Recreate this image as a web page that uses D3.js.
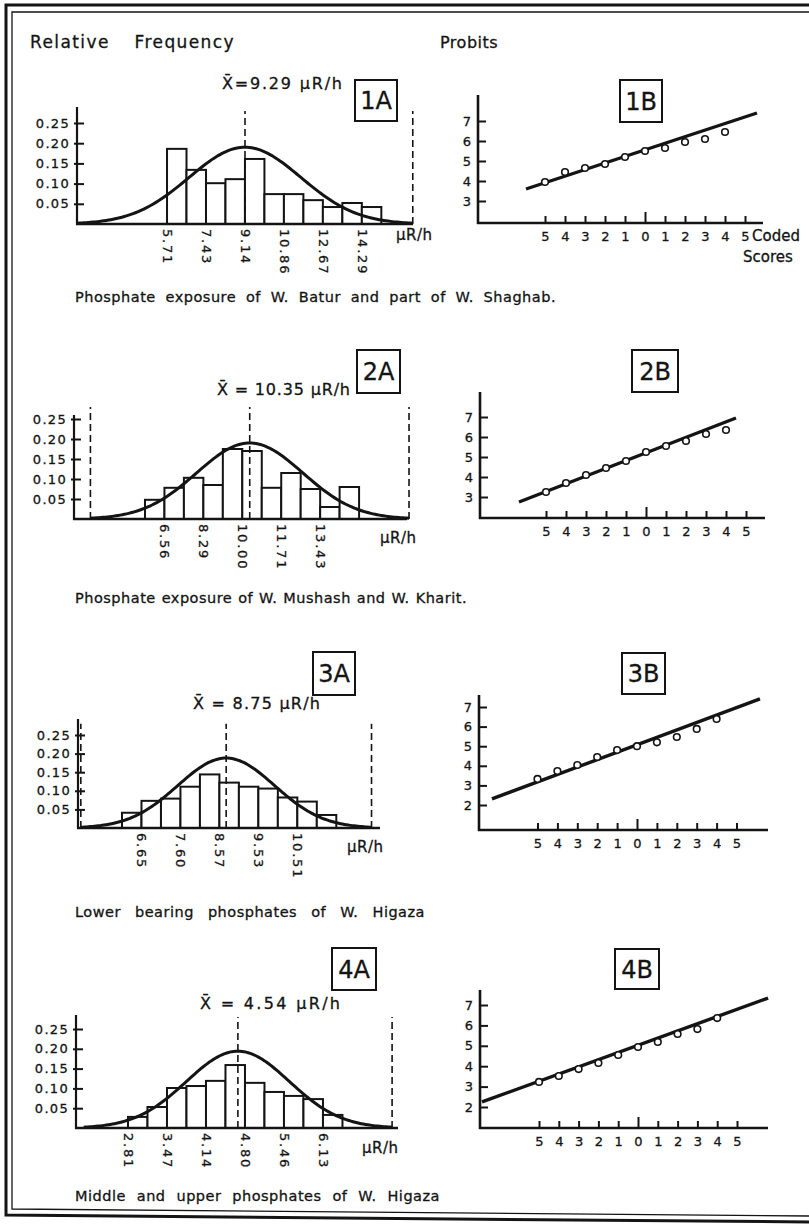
<!DOCTYPE html>
<html>
<head>
<meta charset="utf-8">
<script src="https://cdn.jsdelivr.net/npm/d3@7"></script>
<style>
  body { margin: 0; background: #fff; }
  svg { display: block; }
  text { stroke: #141414; stroke-width: 0.3px; }
</style>
</head>
<body>
<div id="chart"></div>
<script>
const W = 809, H = 1229;
const FONT = "'DejaVu Sans', sans-serif";
const INK = "#141414";

// relative frequency of each class (histograms 1A..4A)
const freq1A = [0.186, 0.134, 0.101, 0.111, 0.161, 0.074, 0.074, 0.059, 0.042, 0.052, 0.042];
const freq2A = [0.048, 0.078, 0.103, 0.085, 0.175, 0.170, 0.078, 0.115, 0.075, 0.030, 0.080];
const freq3A = [0.041, 0.073, 0.079, 0.111, 0.144, 0.122, 0.111, 0.106, 0.082, 0.071, 0.035];
const freq4A = [0.028, 0.053, 0.101, 0.106, 0.119, 0.159, 0.114, 0.091, 0.081, 0.073, 0.033];

// class limits, µR/h
const classStart = [5.71, 5.695, 6.17, 2.81];
const classWidth = [0.857, 0.865, 0.4825, 0.33];
const axisStart = [1.75, 2.54, 5.08, 1.93];
const axisEnd = [16.53, 17.34, 12.56, 7.38];

// labels under every second class limit
const ticks1A = ["5.71", "7.43", "9.14", "10.86", "12.67", "14.29"];
const ticks2A = ["6.56", "8.29", "10.00", "11.71", "13.43"];
const ticks3A = ["6.65", "7.60", "8.57", "9.53", "10.51"];
const ticks4A = ["2.81", "3.47", "4.14", "4.80", "5.46", "6.13"];
const firstTickEdge = [0, 1, 1, 0];
const freqTicks = [0.05, 0.10, 0.15, 0.20, 0.25];

// fitted normal curves
const meanLabels = ["X\u0304=9.29 \u03bcR/h", "X\u0304 = 10.35 \u03bcR/h", "X\u0304 = 8.75 \u03bcR/h", "X\u0304 = 4.54 \u03bcR/h"];
const curveCentre = [9.14, 10.35, 8.75, 4.67];
const curveSd = [2.46, 2.36, 1.20, 0.87];
const curvePeak = [0.190, 0.190, 0.188, 0.194];
const leftDash = [true, true, true, false];

// probit plots 1B..4B
const codedScores = [-5, -4, -3, -2, -1, 0, 1, 2, 3, 4, 5];
const codedLabels = ["5", "4", "3", "2", "1", "0", "1", "2", "3", "4", "5"];
const pointScores = [-5, -4, -3, -2, -1, 0, 1, 2, 3, 4];
const probit1B = [3.95, 4.45, 4.65, 4.85, 5.20, 5.50, 5.65, 5.95, 6.10, 6.45];
const probit2B = [3.25, 3.70, 4.10, 4.45, 4.80, 5.25, 5.55, 5.80, 6.15, 6.35];
const probit3B = [3.33, 3.73, 4.04, 4.45, 4.80, 5.00, 5.20, 5.47, 5.88, 6.39];
const probit4B = [3.23, 3.52, 3.86, 4.16, 4.55, 4.94, 5.19, 5.58, 5.82, 6.36];
const fit1B = [[-5.95, 3.60], [5.60, 7.40]];
const fit2B = [[-6.35, 2.75], [4.50, 6.95]];
const fit3B = [[-7.29, 2.31], [6.18, 7.41]];
const fit4B = [[-7.88, 2.25], [6.57, 7.34]];
const probitTicksA = [3, 4, 5, 6, 7];
const probitTicksB = [2, 3, 4, 5, 6, 7];

const panelA = ["1A", "2A", "3A", "4A"];
const panelB = ["1B", "2B", "3B", "4B"];
const captions = [
    "Phosphate exposure of W. Batur and part of W. Shaghab.",
    "Phosphate exposure of W. Mushash and W. Kharit.",
    "Lower bearing phosphates of W. Higaza",
    "Middle and upper phosphates of W. Higaza"
];

// page layout (pixels)
const layoutA = [
    { x0: 77, x1: 413, base: 224, top25: 123, yTop: 107, label: [222, 89, 120], box: [355, 80, 42, 41], unit: [396, 240] },
    { x0: 74, x1: 407, base: 519, top25: 419, yTop: 415, label: [217, 395, 133], box: [357, 350, 43, 43], unit: [380, 543] },
    { x0: 78, x1: 380, base: 828, top25: 735, yTop: 719, label: [193, 709, 127], box: [313, 652, 42, 43], unit: [347, 852] },
    { x0: 76, x1: 398, base: 1128, top25: 1029, yTop: 1015, label: [200, 1009, 140], box: [332, 948, 44, 42], unit: [362, 1153] }
];
const layoutB = [
    { x0: 478, x1: 763, base: 223, top: 95, c0: 645, dx: 20, y7: 121, dy: 20, box: [620, 80, 42, 42] },
    { x0: 480, x1: 765, base: 518, top: 392, c0: 646, dx: 20, y7: 417, dy: 20, box: [632, 350, 46, 42] },
    { x0: 479, x1: 768, base: 830, top: 695, c0: 637, dx: 19.9, y7: 707, dy: 19.6, box: [622, 653, 43, 41] },
    { x0: 480, x1: 768, base: 1128, top: 990, c0: 638, dx: 19.8, y7: 1005, dy: 20.4, box: [615, 949, 44, 40] }
];
const captionPos = [[75, 302, 481], [75, 603, 392], [75, 917, 350], [75, 1201, 365]];

const svg = d3.select("#chart")
    .append("svg")
    .attr("width", W)
    .attr("height", H)
    .attr("font-family", FONT)
    .attr("fill", INK);

// widen the gaps between words so a line fills its width
function spreadWords(text, width) {
    const w = text.node().getComputedTextLength();
    const gaps = text.text().split(" ").length - 1;
    if (gaps > 0 && width > w) text.style("word-spacing", ((width - w) / gaps) + "px");
}

function labelBox(g, b, name) {
    g.append("rect")
        .attr("x", b[0]).attr("y", b[1])
        .attr("width", b[2]).attr("height", b[3])
        .attr("fill", "#fff")
        .attr("stroke", INK)
        .attr("stroke-width", 2);
    g.append("text")
        .attr("x", b[0] + b[2] / 2)
        .attr("y", b[1] + b[3] / 2)
        .attr("dy", "0.36em")
        .attr("text-anchor", "middle")
        .attr("font-size", 24)
        .text(name);
}

function drawFrame() {
    const frame = svg.append("g").attr("stroke", INK).attr("fill", "none");
    frame.append("path").attr("stroke-width", 3).attr("d", "M809,5 L6,5 L6,1215 L809,1222");
    frame.append("path").attr("stroke-width", 1.3).attr("d", "M809,12 L12,12 L12,1209 L809,1216");
}

function drawHistogram(k, freqs, tickLabels) {
    const L = layoutA[k];
    const x = d3.scaleLinear().domain([axisStart[k], axisEnd[k]]).range([L.x0, L.x1]);
    const y = d3.scaleLinear().domain([0, 0.25]).range([L.base, L.top25]);
    const g = svg.append("g");

    // barras del histograma
    g.selectAll("rect.bar")
        .data(freqs)
        .enter()
        .append("rect")
        .attr("class", "bar")
        .attr("x", (d, i) => x(classStart[k] + i * classWidth[k]))
        .attr("width", x(classWidth[k]) - x(0))
        .attr("y", d => y(d))
        .attr("height", d => y(0) - y(d))
        .attr("fill", "#fff")
        .attr("stroke", INK)
        .attr("stroke-width", 2);

    // mean and +-3 sigma markers
    const c = curveCentre[k], s = curveSd[k];
    const dashes = leftDash[k] ? [c - 3 * s, c, c + 3 * s] : [c, c + 3 * s];
    g.selectAll("line.dash")
        .data(dashes)
        .enter()
        .append("line")
        .attr("x1", d => x(d)).attr("x2", d => x(d))
        .attr("y1", y(0)).attr("y2", y(0.28))
        .attr("stroke", INK)
        .attr("stroke-width", 1.6)
        .attr("stroke-dasharray", "7,4");

    // normal curve
    const pts = d3.range(c - 3 * s, c + 3 * s + 1e-9, s / 25)
        .map(v => [v, curvePeak[k] * Math.exp(-((v - c) * (v - c)) / (2 * s * s))]);
    g.append("path")
        .datum(pts)
        .attr("fill", "none")
        .attr("stroke", INK)
        .attr("stroke-width", 3)
        .attr("d", d3.line().x(d => x(d[0])).y(d => y(d[1])));

    // axis lines
    g.append("line")
        .attr("x1", L.x0).attr("x2", L.x0)
        .attr("y1", L.base + 1).attr("y2", L.yTop)
        .attr("stroke", INK).attr("stroke-width", 2.2);
    g.append("line")
        .attr("x1", L.x0 - 1).attr("x2", L.x1)
        .attr("y1", L.base).attr("y2", L.base)
        .attr("stroke", INK).attr("stroke-width", 2.6);

    // eje Y
    const yAxis = g.append("g")
        .attr("transform", `translate(${L.x0},0)`)
        .call(d3.axisLeft(y).tickValues(freqTicks).tickFormat(d3.format(".2f")).tickSize(-7).tickPadding(7));
    yAxis.attr("font-family", FONT).attr("font-size", 13);
    yAxis.select(".domain").remove();
    yAxis.selectAll("line").attr("x1", -3).attr("stroke", INK).attr("stroke-width", 2);
    yAxis.selectAll("text").attr("fill", INK).attr("letter-spacing", 1.3);

    // eje X, rotated labels on class limits
    const edges = tickLabels.map((t, j) => classStart[k] + (firstTickEdge[k] + 2 * j) * classWidth[k]);
    const xAxis = g.append("g")
        .attr("transform", `translate(0,${L.base})`)
        .call(d3.axisBottom(x).tickValues(edges).tickFormat((d, j) => tickLabels[j]).tickSize(0));
    xAxis.attr("font-family", FONT).attr("font-size", 13);
    xAxis.select(".domain").remove();
    xAxis.selectAll("text")
        .attr("fill", INK)
        .attr("transform", "rotate(90)")
        .attr("x", 5).attr("y", 0)
        .attr("dy", "0.35em")
        .attr("text-anchor", "start")
        .attr("letter-spacing", 1.8);

    g.append("text")
        .attr("x", L.unit[0]).attr("y", L.unit[1])
        .attr("font-size", 15)
        .attr("letter-spacing", 0.5)
        .text("\u03bcR/h");

    g.append("text")
        .attr("x", L.label[0]).attr("y", L.label[1])
        .attr("font-size", 16)
        .attr("textLength", L.label[2])
        .attr("lengthAdjust", "spacing")
        .text(meanLabels[k]);

    labelBox(g, L.box, panelA[k]);
}

function drawProbit(k, probits, fit, yTicks) {
    const L = layoutB[k];
    const x = d3.scaleLinear().domain([0, 1]).range([L.c0, L.c0 + L.dx]);
    const y = d3.scaleLinear().domain([7, 6]).range([L.y7, L.y7 + L.dy]);
    const g = svg.append("g");

    g.append("line")
        .attr("x1", L.x0).attr("x2", L.x0)
        .attr("y1", L.base + 1).attr("y2", L.top)
        .attr("stroke", INK).attr("stroke-width", 2.6);
    g.append("line")
        .attr("x1", L.x0 - 1).attr("x2", L.x1)
        .attr("y1", L.base).attr("y2", L.base)
        .attr("stroke", INK).attr("stroke-width", 2.6);

    const yAxis = g.append("g")
        .attr("transform", `translate(${L.x0},0)`)
        .call(d3.axisLeft(y).tickValues(yTicks).tickFormat(d3.format("d")).tickSize(-8).tickPadding(7));
    yAxis.attr("font-family", FONT).attr("font-size", 13);
    yAxis.select(".domain").remove();
    yAxis.selectAll("line").attr("stroke", INK).attr("stroke-width", 2);
    yAxis.selectAll("text").attr("fill", INK);

    const xAxis = g.append("g")
        .attr("transform", `translate(0,${L.base})`)
        .call(d3.axisBottom(x).tickValues(codedScores).tickFormat((d, i) => codedLabels[i]).tickSize(-7).tickPadding(9));
    xAxis.attr("font-family", FONT).attr("font-size", 13);
    xAxis.select(".domain").remove();
    xAxis.selectAll("line").attr("stroke", INK).attr("stroke-width", 2);
    xAxis.selectAll("line").filter(d => d === 0).attr("y2", -11);
    xAxis.selectAll("text").attr("fill", INK);

    // fitted probit line
    g.append("path")
        .datum(fit)
        .attr("fill", "none")
        .attr("stroke", INK)
        .attr("stroke-width", 3.4)
        .attr("d", d3.line().x(d => x(d[0])).y(d => y(d[1])));

    // observed points
    g.selectAll("circle")
        .data(probits)
        .enter()
        .append("circle")
        .attr("cx", (d, i) => x(pointScores[i]))
        .attr("cy", d => y(d))
        .attr("r", 3.3)
        .attr("fill", "#fff")
        .attr("stroke", INK)
        .attr("stroke-width", 1.6);

    if (k === 0) {
        g.append("text")
            .attr("x", x(5) + 7).attr("y", L.base + 18)
            .attr("font-size", 15)
            .text("Coded");
        g.append("text")
            .attr("x", 743).attr("y", L.base + 39)
            .attr("font-size", 15)
            .text("Scores");
    }

    labelBox(g, L.box, panelB[k]);
}

function drawTexts() {
    const head = svg.append("text")
        .attr("x", 30).attr("y", 48)
        .attr("font-size", 17)
        .attr("letter-spacing", 1.4)
        .text("Relative Frequency");
    spreadWords(head, 205);
    svg.append("text")
        .attr("x", 440).attr("y", 48)
        .attr("font-size", 16)
        .attr("letter-spacing", 0.5)
        .text("Probits");

    captions.forEach((c, i) => {
        const t = svg.append("text")
            .attr("x", captionPos[i][0]).attr("y", captionPos[i][1])
            .attr("font-size", 14.5)
            .attr("letter-spacing", 0.5)
            .text(c);
        spreadWords(t, captionPos[i][2]);
    });
}

drawFrame();
drawHistogram(0, freq1A, ticks1A);
drawHistogram(1, freq2A, ticks2A);
drawHistogram(2, freq3A, ticks3A);
drawHistogram(3, freq4A, ticks4A);
drawProbit(0, probit1B, fit1B, probitTicksA);
drawProbit(1, probit2B, fit2B, probitTicksA);
drawProbit(2, probit3B, fit3B, probitTicksB);
drawProbit(3, probit4B, fit4B, probitTicksB);
drawTexts();
</script>
</body>
</html>
